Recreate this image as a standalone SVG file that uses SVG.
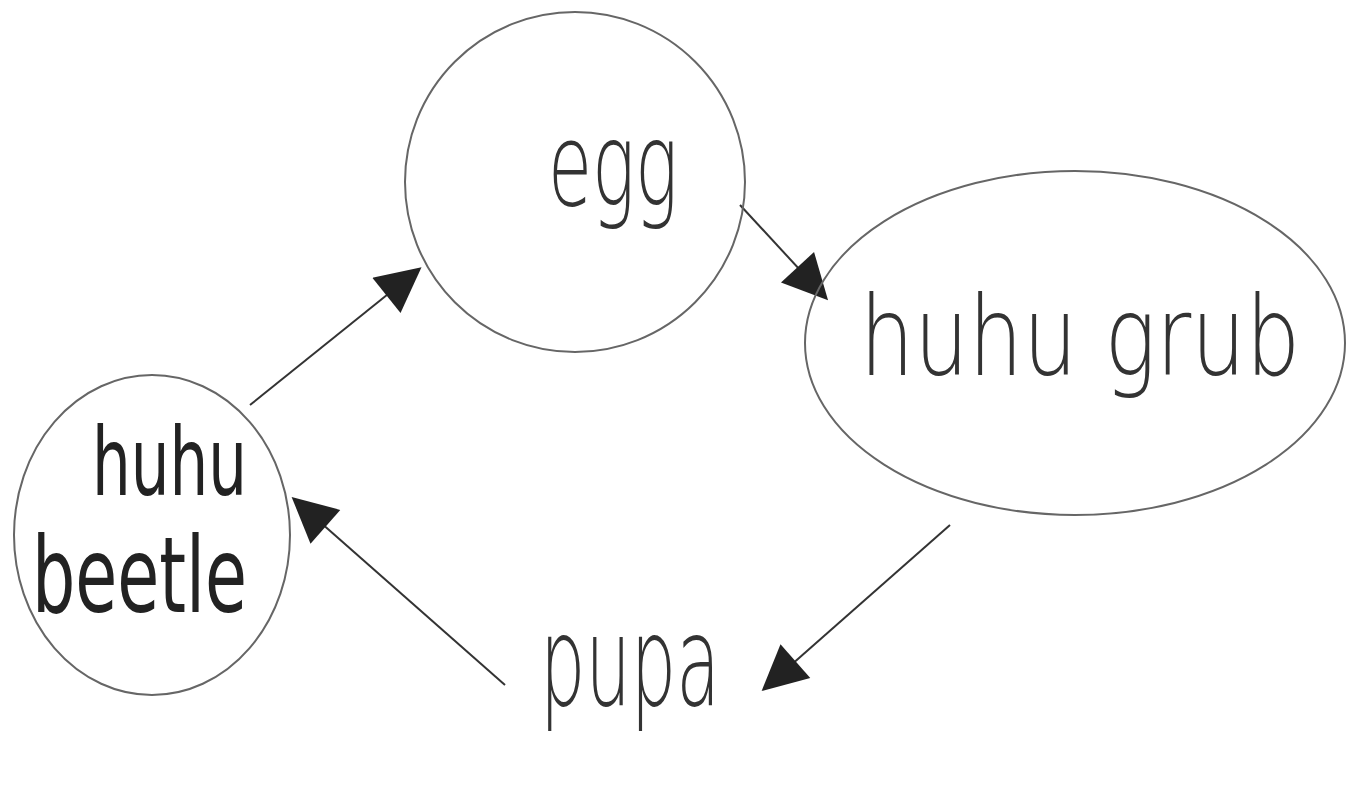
<svg xmlns="http://www.w3.org/2000/svg" width="1350" height="794" viewBox="0 0 1350 794">
<style>
.node{fill:none;stroke:#666;stroke-width:2}
.lbl{font-family:"DejaVu Sans","Liberation Sans",sans-serif;fill:#333;font-weight:200}
.bold{font-weight:500;fill:#222}
.edge{stroke:#333;stroke-width:2;fill:none}
</style>
<defs>
<marker id="ah" viewBox="0 0 10 10" refX="9" refY="5" markerWidth="55" markerHeight="45" markerUnits="userSpaceOnUse" orient="auto">
<path d="M0,0 L10,5 L0,10 z" fill="#222"/>
</marker>
</defs>
<rect width="1350" height="794" fill="#fff"/>
<g id="connectors">
<line class="edge" x1="250" y1="405" x2="418" y2="270" marker-end="url(#ah)"/>
<line class="edge" x1="740" y1="205" x2="825" y2="297" marker-end="url(#ah)"/>
<line class="edge" x1="950" y1="525" x2="765" y2="688" marker-end="url(#ah)"/>
<line class="edge" x1="505" y1="685" x2="295" y2="500" marker-end="url(#ah)"/>
</g>
<g id="egg">
<ellipse class="node" cx="575" cy="182" rx="170" ry="170"/>
<text class="lbl" x="548" y="205" font-size="115" textLength="130" lengthAdjust="spacingAndGlyphs">egg</text>
</g>
<g id="huhu-grub">
<ellipse class="node" cx="1075" cy="343" rx="270" ry="172"/>
<text class="lbl" transform="translate(1080,375) scale(0.78,1)" x="0" y="0" font-size="110" text-anchor="middle">huhu grub</text>
</g>
<g id="huhu-beetle">
<ellipse class="node" cx="152" cy="535" rx="138" ry="160"/>
<text class="lbl bold" x="92" y="495" font-size="95" textLength="155" lengthAdjust="spacingAndGlyphs">huhu</text>
<text class="lbl bold" x="32" y="612" font-size="105" textLength="215" lengthAdjust="spacingAndGlyphs">beetle</text>
</g>
<g id="pupa">
<text class="lbl" x="540" y="705" font-size="125" textLength="180" lengthAdjust="spacingAndGlyphs">pupa</text>
</g>
</svg>
